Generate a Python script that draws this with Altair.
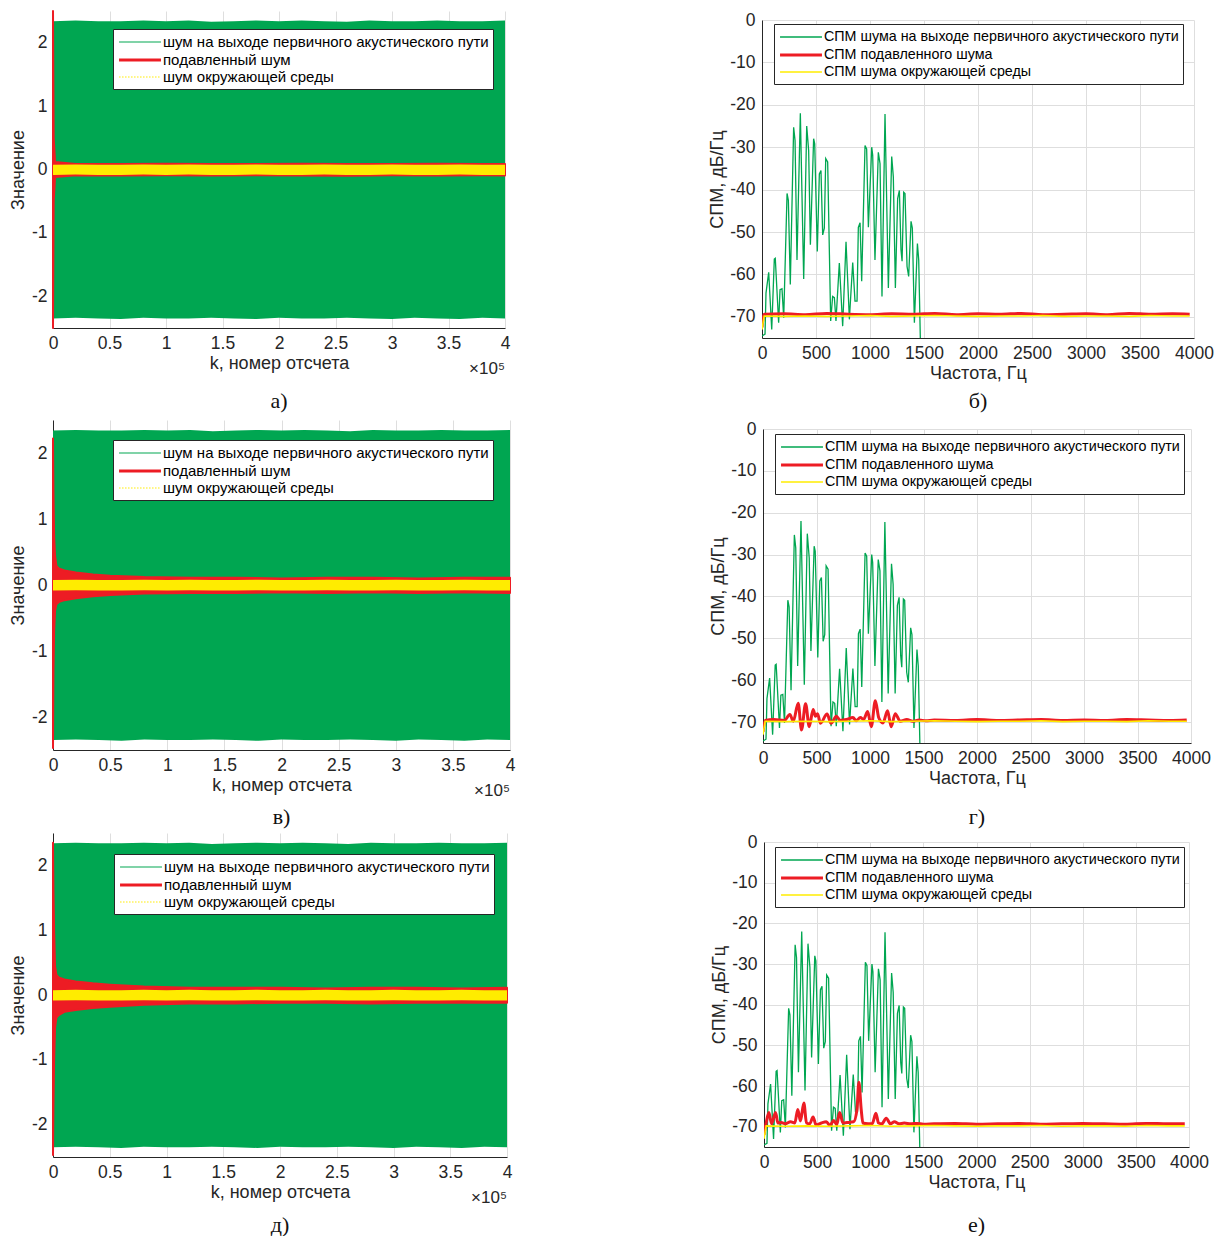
import altair as alt
import pandas as pd

FONT = "Liberation Sans"
SERIF = "Liberation Serif"
GREEN = "#00a651"
RED = "#ed1c24"
YELLOW = "#ffec00"
GRID = "#dedede"
INK = "#262626"

# ---------------- time-domain panels (envelopes of the signals) ----------------
TIME_NAMES = ["шум на выходе первичного акустического пути",
              "подавленный шум",
              "шум окружающей среды"]

K_ENV = [0, 20000, 40000, 60000, 80000, 100000, 120000, 140000, 160000, 180000, 200000,
         220000, 240000, 260000, 280000, 300000, 320000, 340000, 360000, 380000, 400000]
GREEN_HI = [2.34, 2.35, 2.34, 2.34, 2.35, 2.34, 2.35, 2.33, 2.34, 2.35, 2.34,
            2.35, 2.34, 2.33, 2.35, 2.34, 2.34, 2.35, 2.34, 2.34, 2.35]
GREEN_LO = [-2.35, -2.34, -2.35, -2.36, -2.34, -2.35, -2.35, -2.34, -2.35, -2.36, -2.34,
            -2.35, -2.35, -2.34, -2.35, -2.36, -2.34, -2.35, -2.36, -2.34, -2.35]
AMB_HI = [0.075, 0.08, 0.075, 0.075, 0.08, 0.075, 0.08, 0.075, 0.075, 0.08, 0.075,
          0.075, 0.08, 0.075, 0.075, 0.08, 0.075, 0.075, 0.08, 0.075, 0.075]
AMB_LO = [-0.085, -0.08, -0.085, -0.085, -0.08, -0.085, -0.08, -0.085, -0.085, -0.08, -0.085,
          -0.085, -0.08, -0.085, -0.085, -0.08, -0.085, -0.085, -0.08, -0.085, -0.085]

# suppressed noise envelope, panel а
RED_A_K = [0, 600, 1800, 20000, 60000, 100000, 140000, 180000, 220000, 260000, 300000, 340000, 380000, 400000]
RED_A_HI = [2.5, 0.5, 0.12, 0.085, 0.085, 0.09, 0.085, 0.085, 0.09, 0.085, 0.085, 0.09, 0.085, 0.085]
RED_A_LO = [-2.5, -0.5, -0.12, -0.09, -0.095, -0.09, -0.095, -0.09, -0.095, -0.1, -0.09, -0.095, -0.09, -0.095]

# suppressed noise envelopes, panels в and д
RED_K = [0, 400, 1000, 1800, 3000, 5000, 10000, 20000, 35000, 50000, 80000,
         120000, 160000, 200000, 240000, 280000, 320000, 360000, 400000]
RED_B_HI = [2.22, 1.4, 0.72, 0.44, 0.29, 0.25, 0.22, 0.19, 0.16, 0.14, 0.12,
            0.11, 0.11, 0.1, 0.11, 0.11, 0.1, 0.11, 0.11]
RED_B_LO = [-2.47, -1.3, -0.68, -0.39, -0.29, -0.26, -0.23, -0.2, -0.17, -0.15, -0.13,
            -0.12, -0.12, -0.11, -0.12, -0.11, -0.12, -0.11, -0.12]
RED_C_HI = [2.35, 1.6, 0.97, 0.44, 0.31, 0.27, 0.24, 0.21, 0.18, 0.16, 0.13,
            0.11, 0.11, 0.11, 0.1, 0.11, 0.11, 0.1, 0.11]
RED_C_LO = [-2.47, -1.7, -0.98, -0.51, -0.35, -0.31, -0.26, -0.23, -0.2, -0.18, -0.15,
            -0.13, -0.13, -0.12, -0.12, -0.13, -0.12, -0.12, -0.12]

K_TICKS = [0, 50000, 100000, 150000, 200000, 250000, 300000, 350000, 400000]

# ---------------- power spectral density panels ----------------
PSD_NAMES = ["СПМ шума на выходе первичного акустического пути",
             "СПМ подавленного шума",
             "СПМ шума окружающей среды"]

PRIM_F = [0, 28, 37, 62, 90, 114, 123, 154, 167, 185, 201, 232, 244, 262, 293, 306, 324, 355,
          386, 414, 432, 448, 478, 488, 512, 531, 546, 562, 577, 590, 608, 636, 654, 670, 685,
          716, 747, 778, 809, 840, 861, 880, 892, 908, 923, 954, 969, 985, 1016, 1025, 1046,
          1077, 1093, 1111, 1139, 1170, 1201, 1216, 1235, 1256, 1272, 1287, 1297, 1312, 1324,
          1343, 1358, 1380, 1392, 1411, 1439, 1451, 1466, 1475]
PRIM_V = [-74.5, -74.1, -64.4, -59.5, -73.0, -56.4, -56.2, -71.4, -63.6, -63.4, -70.2, -40.9,
          -42.5, -62.4, -25.3, -28.4, -56.6, -22.0, -61.1, -25.0, -30.8, -53.0, -28.0, -29.2,
          -54.6, -36.3, -35.5, -50.7, -49.1, -32.7, -33.5, -71.0, -65.2, -65.5, -71.0, -57.3,
          -72.2, -52.3, -70.6, -57.2, -66.3, -66.3, -48.9, -47.8, -61.6, -29.6, -30.4, -48.9,
          -30.0, -31.9, -56.6, -31.2, -33.9, -65.2, -22.2, -63.2, -32.2, -37.0, -63.2, -42.1,
          -40.2, -54.2, -56.9, -40.6, -40.9, -58.1, -60.5, -47.5, -49.1, -71.4, -52.7, -56.6,
          -75.0, -80.0]

FLAT_F = [0, 20, 200, 400, 600, 800, 1000, 1200, 1400, 1600, 1800, 2000, 2200, 2400,
          2600, 2800, 3000, 3200, 3400, 3600, 3800, 3960]
AMB_V = [-73.0, -69.8, -69.9, -69.8, -69.9, -69.8, -69.7, -69.9, -69.8, -69.7, -69.8,
         -69.9, -69.8, -69.8, -69.7, -69.9, -69.8, -69.8, -69.9, -69.7, -69.8, -69.8]
SUP_B_V = [-72.5, -69.4, -69.3, -69.5, -69.2, -69.4, -69.5, -69.3, -69.4, -69.2, -69.5,
           -69.3, -69.4, -69.2, -69.5, -69.4, -69.3, -69.5, -69.2, -69.4, -69.3, -69.4]

SUP_G_F = [0, 20, 100, 200, 251, 283, 329, 360, 398, 432, 469, 490, 510, 537, 599, 636, 686,
           720, 780, 841, 870, 910, 940, 978, 1012, 1050, 1081, 1121, 1164, 1198, 1236, 1282,
           1344, 1400, 1460, 1520, 1600, 1800, 2000, 2200, 2400, 2600, 2800, 3000, 3200, 3400,
           3600, 3800, 3960]
SUP_G_V = [-72.3, -69.6, -69.4, -69.6, -68.2, -69.8, -65.5, -71.9, -65.6, -71.1, -67.0, -68.6,
           -68.0, -70.3, -68.1, -70.3, -68.6, -69.6, -69.4, -68.9, -69.7, -68.9, -69.4, -67.5,
           -71.1, -64.9, -68.9, -70.2, -67.3, -71.1, -68.0, -69.8, -69.4, -69.8, -69.5, -69.7,
           -69.5, -69.6, -69.4, -69.6, -69.5, -69.4, -69.6, -69.5, -69.6, -69.4, -69.5, -69.6,
           -69.5]

SUP_E_F = [0, 20, 46, 71, 109, 131, 162, 200, 250, 290, 318, 343, 375, 400, 430, 462, 490, 540,
           587, 620, 656, 685, 712, 743, 780, 843, 875, 893, 915, 931, 980, 1020, 1053, 1078,
           1110, 1150, 1190, 1228, 1270, 1320, 1380, 1440, 1500, 1600, 1800, 2000, 2200, 2400,
           2600, 2800, 3000, 3200, 3400, 3600, 3800, 3960]
SUP_E_V = [-72.0, -69.1, -66.5, -69.3, -66.5, -69.1, -69.0, -69.3, -68.8, -69.1, -65.8, -68.6,
           -64.2, -69.1, -69.3, -67.6, -69.6, -69.1, -68.8, -69.7, -68.5, -69.5, -66.5, -69.1,
           -69.0, -68.8, -65.8, -59.1, -65.8, -69.1, -69.3, -69.2, -66.7, -69.1, -69.3, -67.9,
           -69.3, -68.8, -69.3, -69.1, -69.3, -69.2, -69.4, -69.3, -69.2, -69.4, -69.3, -69.2,
           -69.4, -69.3, -69.2, -69.3, -69.4, -69.2, -69.3, -69.3]


def make_axis(**kw):
    base = dict(labelFont=FONT, labelFontSize=17.5, labelColor=INK, titleFont=FONT,
                titleFontSize=18, titleFontWeight="normal", titleColor=INK,
                domainColor=INK, domainWidth=1, ticks=False, gridColor=GRID, gridWidth=1,
                labelOverlap=False, labelFlush=False)
    base.update(kw)
    return alt.Axis(**base)


def make_legend(x, y, size):
    return alt.Legend(title=None, orient="none", legendX=x, legendY=y, fillColor="white",
                      strokeColor=INK, padding=4, labelFont=FONT, labelFontSize=size,
                      labelColor="black", labelLimit=600, symbolType="M-2.6,0H2.6",
                      symbolSize=260, symbolOffset=13, labelOffset=13, rowPadding=0)


def caption(text, offset):
    return alt.TitleParams(text, orient="bottom", font=SERIF, fontSize=22,
                           fontWeight="normal", color="#111111", offset=offset)


def time_panel(red_k, red_hi, red_lo, width, height, lx, ly, cap, cap_offset):
    X = alt.X("k:Q", scale=alt.Scale(domain=[0, 400000], nice=False, zero=False),
              axis=make_axis(values=K_TICKS, labelExpr="datum.value / 100000 + ''",
                             title="k, номер отсчета", labelPadding=6, titlePadding=3))
    Y = alt.Y("hi:Q", scale=alt.Scale(domain=[-2.5, 2.5], nice=False, zero=False),
              axis=make_axis(values=[-2, -1, 0, 1, 2], labelExpr="datum.value + ''",
                             title="Значение", labelPadding=6, titlePadding=4))
    primary = pd.DataFrame({"k": K_ENV, "hi": GREEN_HI, "lo": GREEN_LO})
    ambient = pd.DataFrame({"k": K_ENV, "hi": AMB_HI, "lo": AMB_LO})
    suppressed = pd.DataFrame({"k": red_k, "hi": red_hi, "lo": red_lo})

    green = alt.Chart(primary).mark_area(color=GREEN).encode(x=X, y=Y, y2="lo:Q")
    red = alt.Chart(suppressed).mark_area(color=RED, stroke=RED, strokeWidth=2,
                                          strokeJoin="round").encode(x=X, y=Y, y2="lo:Q")
    yellow = alt.Chart(ambient).mark_area(color=YELLOW).encode(x=X, y=Y, y2="lo:Q")

    leg = make_legend(lx, ly, 15)
    key_df = pd.DataFrame({"series": TIME_NAMES, "k": [0, 0, 0], "hi": [0, 0, 0]})
    key = alt.Chart(key_df).mark_line().encode(
        x=X, y=Y,
        color=alt.Color("series:N", scale=alt.Scale(domain=TIME_NAMES, range=[GREEN, RED, YELLOW]),
                        legend=leg),
        strokeWidth=alt.StrokeWidth("series:N", scale=alt.Scale(type="ordinal", domain=TIME_NAMES,
                                                                range=[1.2, 3, 1.2]), legend=leg),
        strokeDash=alt.StrokeDash("series:N", scale=alt.Scale(domain=TIME_NAMES,
                                                              range=[[1, 0], [1, 0], [1.5, 1.5]]),
                                  legend=leg),
    )
    power = alt.Chart(pd.DataFrame({"t": [0]})).mark_text(
        text="×10⁵", align="right", baseline="top", font=FONT, fontSize=17, color=INK
    ).encode(x=alt.value(width), y=alt.value(height + 33))

    return alt.layer(green, red, yellow, key, power).properties(
        width=width, height=height, title=caption(cap, cap_offset))


def psd_panel(sup_f, sup_v, width, height, lx, ly, cap, cap_offset):
    X = alt.X("f:Q", scale=alt.Scale(domain=[0, 4000], nice=False, zero=False),
              axis=make_axis(values=list(range(0, 4001, 500)), labelExpr="datum.value + ''",
                             title="Частота, Гц", labelPadding=6, titlePadding=3))
    Y = alt.Y("v:Q", scale=alt.Scale(domain=[-75, 0], nice=False, zero=False),
              axis=make_axis(values=[-70, -60, -50, -40, -30, -20, -10, 0],
                             labelExpr="datum.value + ''",
                             title="СПМ, дБ/Гц", labelPadding=7, titlePadding=3))
    leg = make_legend(lx, ly, 14.3)
    color = alt.Color("series:N", scale=alt.Scale(domain=PSD_NAMES, range=[GREEN, RED, YELLOW]),
                      legend=leg)
    sw = alt.StrokeWidth("series:N", scale=alt.Scale(type="ordinal", domain=PSD_NAMES,
                                                     range=[1.3, 3, 1.6]), legend=leg)
    series = [(PSD_NAMES[0], PRIM_F, PRIM_V, "linear"),
              (PSD_NAMES[1], sup_f, sup_v, "monotone"),
              (PSD_NAMES[2], FLAT_F, AMB_V, "linear")]
    layers = []
    for name, f, v, interp in series:
        df = pd.DataFrame({"f": f, "v": v, "series": name})
        layers.append(alt.Chart(df).mark_line(clip=True, interpolate=interp).encode(
            x=X, y=Y, color=color, strokeWidth=sw))
    panel = alt.layer(*layers).properties(width=width, height=height,
                                          title=caption(cap, cap_offset))
    # a one-pixel blank strip keeps the spectrum frame slightly below the signal frame
    strip = alt.Chart(pd.DataFrame({"a": [0]})).mark_point(size=0, opacity=0).properties(
        width=1, height=1)
    return alt.vconcat(strip, panel, spacing=-1)


INDEP = dict(color="independent", strokeWidth="independent", strokeDash="independent")


def row(left, right, gap):
    return alt.hconcat(left, right, spacing=gap).resolve_scale(**INDEP).resolve_legend(**INDEP)


row1 = row(time_panel(RED_A_K, RED_A_HI, RED_A_LO, 452, 317, 60, 18, "а)", 14),
           psd_panel(FLAT_F, SUP_B_V, 432, 318, 12, 13, "б)", 8), 198)
row2 = row(time_panel(RED_K, RED_B_HI, RED_B_LO, 457, 330, 60, 20, "в)", 8),
           psd_panel(SUP_G_F, SUP_G_V, 428, 314, 12, 14, "г)", 19), 194)
row3 = row(time_panel(RED_K, RED_C_HI, RED_C_LO, 454, 324, 61, 21, "д)", 9),
           psd_panel(SUP_E_F, SUP_E_V, 425, 305, 11, 14, "е)", 23), 198)

lower = alt.vconcat(row2, row3, spacing=5).resolve_scale(**INDEP).resolve_legend(**INDEP)

chart = alt.vconcat(row1, lower, spacing=8).resolve_scale(**INDEP).resolve_legend(
    **INDEP
).configure_view(stroke=None).properties(
    padding={"left": 9, "top": 10, "right": 0, "bottom": 0}, background="white"
)

chart.save("out.html", embed_options={"renderer": "svg", "actions": False})
